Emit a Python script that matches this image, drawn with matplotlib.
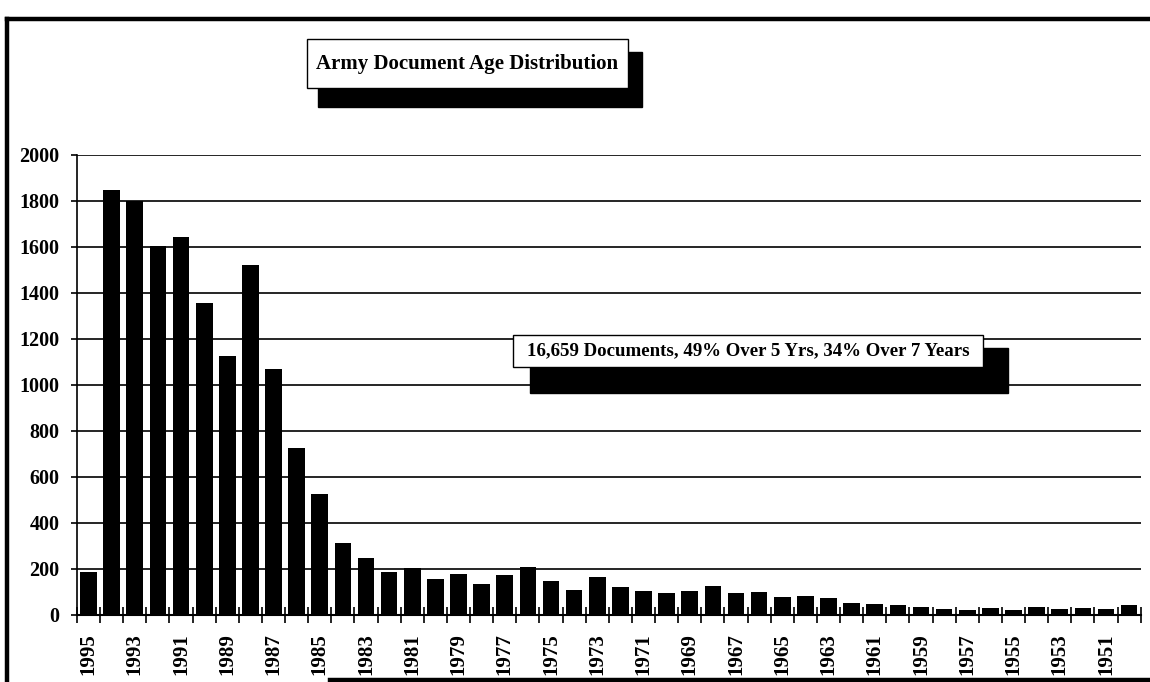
import matplotlib
matplotlib.use("Agg")
import matplotlib.pyplot as plt
from matplotlib.patches import Rectangle
from matplotlib.lines import Line2D
import numpy as np

# ---------------- data ----------------
years = list(range(1995, 1949, -1))
counts = [185, 1850, 1800, 1605, 1645, 1355, 1125, 1520, 1070, 725,
          528, 312, 250, 185, 205, 155, 180, 135, 175, 210,
          150, 110, 165, 120, 105, 95, 105, 125, 95, 100,
          78, 82, 75, 52, 48, 45, 36, 26, 22, 30,
          20, 34, 28, 30, 26, 45]
title_text = "Army Document Age Distribution"
note_text = "16,659 Documents, 49% Over 5 Yrs, 34% Over 7 Years"
yticks = list(range(0, 2001, 200))

plt.rcParams['font.family'] = ['Liberation Serif', 'DejaVu Serif']
plt.rcParams['font.weight'] = 'bold'

W, H = 1150, 682
fig = plt.figure(figsize=(W / 100, H / 100), dpi=100)
fig.patch.set_facecolor('white')


def fx(x):
    return x / W


def fy(y):
    return 1 - y / H


ax = fig.add_axes([fx(77), fy(615), fx(1140.7) - fx(77), fy(155) - fy(615)])
x = np.arange(len(years))
ax.bar(x, counts, width=0.72, color='black', zorder=3)
ax.set_xlim(-0.5, len(years) - 0.5)
ax.set_ylim(0, 2000)
ax.set_yticks(yticks)
ax.set_yticklabels([str(v) for v in yticks], fontsize=14.5, fontweight='bold')
ax.yaxis.grid(True, color='black', linewidth=1.2, zorder=1)
ax.set_axisbelow(True)
ax.tick_params(axis='y', direction='out', length=4.5, width=1.2, pad=8, colors='black')

ax.set_xticks(x[::2])
ax.set_xticklabels([str(y) for y in years[::2]], rotation=90, fontsize=15,
                   fontweight='bold', va='top', ha='center')
ax.set_xticks(np.arange(-0.5, len(years)), minor=True)
ax.tick_params(axis='x', which='major', length=0, pad=13)
ax.tick_params(axis='x', which='minor', direction='inout', length=11, width=1.2, colors='black')

for s in ['top', 'right']:
    ax.spines[s].set_visible(False)
ax.spines['left'].set_linewidth(1.2)
ax.spines['bottom'].set_linewidth(1.5)
ax.spines['bottom'].set_zorder(4)

# outer frame
fig.add_artist(Line2D([fx(7), fx(1150)], [fy(19), fy(19)], color='black', linewidth=3.2))
fig.add_artist(Line2D([fx(7), fx(7)], [fy(19), fy(682)], color='black', linewidth=3.2))
fig.add_artist(Line2D([fx(330), fx(1150)], [fy(679.5), fy(679.5)], color='black', linewidth=3.2))


def box(x0, y0, x1, y1, sx0, sy0, sx1, sy1, text, size):
    fig.add_artist(Rectangle((fx(sx0), fy(sy1)), fx(sx1) - fx(sx0), fy(sy0) - fy(sy1),
                             facecolor='black', edgecolor='black', zorder=5))
    fig.add_artist(Rectangle((fx(x0), fy(y1)), fx(x1) - fx(x0), fy(y0) - fy(y1),
                             facecolor='white', edgecolor='black', linewidth=1.0, zorder=6))
    fig.text(fx((x0 + x1) / 2), fy((y0 + y1) / 2), text, ha='center', va='center',
             fontsize=size, fontweight='bold', zorder=7)


box(307, 39, 628, 88, 318, 52, 642, 107, title_text, 15)
box(513, 335, 983, 367, 530, 348, 1008, 393, note_text, 13.6)

fig.savefig('out.png', dpi=100)
